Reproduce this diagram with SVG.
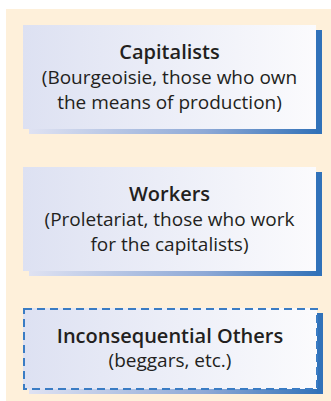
<svg xmlns="http://www.w3.org/2000/svg" width="331" height="401" viewBox="0 0 331 401">
  <defs>
    <linearGradient id="faceFill" x1="0" y1="0" x2="1" y2="0">
      <stop offset="0" stop-color="#dde1f2"/>
      <stop offset="1" stop-color="#fbfbfd"/>
    </linearGradient>
    <linearGradient id="shadowFill" x1="0" y1="0" x2="1" y2="0">
      <stop offset="0" stop-color="#dfe2f2"/>
      <stop offset="0.6" stop-color="#8ea9d6"/>
      <stop offset="1" stop-color="#2f70b7"/>
    </linearGradient>
  </defs>
  <style>
    .face { fill: url(#faceFill); }
    .shadow { fill: url(#shadowFill); }
    .edge { fill: #3172b9; }
    .dashed { fill: none; stroke: #3a7cc4; stroke-width: 2; stroke-dasharray: 8 5; }
    text { font-family: "Open Sans", "Noto Sans", "Liberation Sans", sans-serif; font-size: 19px; fill: #231f20; text-anchor: middle; }
    .title { font-size: 20px; font-weight: 600; }
  </style>

  <!-- panel -->
  <rect x="6" y="9" width="325" height="392" fill="#fef0da"/>

  <g id="capitalists">
    <rect class="shadow" x="29" y="30" width="293" height="104"/>
    <rect class="edge" x="316" y="30" width="6" height="104"/>
    <rect class="face" x="23" y="25" width="293" height="104"/>
    <text class="title" x="169.5" y="59">Capitalists</text>
    <text x="169.5" y="84">(Bourgeoisie, those who own</text>
    <text x="169.5" y="109">the means of production)</text>
  </g>

  <g id="workers">
    <rect class="shadow" x="29" y="172" width="293" height="104"/>
    <rect class="edge" x="316" y="172" width="6" height="104"/>
    <rect class="face" x="23" y="167" width="293" height="104"/>
    <text class="title" x="169.5" y="201">Workers</text>
    <text x="169.5" y="226">(Proletariat, those who work</text>
    <text x="169.5" y="251">for the capitalists)</text>
  </g>

  <g id="others">
    <rect class="shadow" x="29" y="313" width="294" height="81"/>
    <rect class="edge" x="317" y="313" width="6" height="81"/>
    <rect class="face" x="23" y="308" width="294" height="81"/>
    <rect class="dashed" x="24" y="309" width="293" height="80"/>
    <text class="title" x="170" y="343">Inconsequential Others</text>
    <text x="170" y="367">(beggars, etc.)</text>
  </g>

  <g id="connectors"/>
</svg>
